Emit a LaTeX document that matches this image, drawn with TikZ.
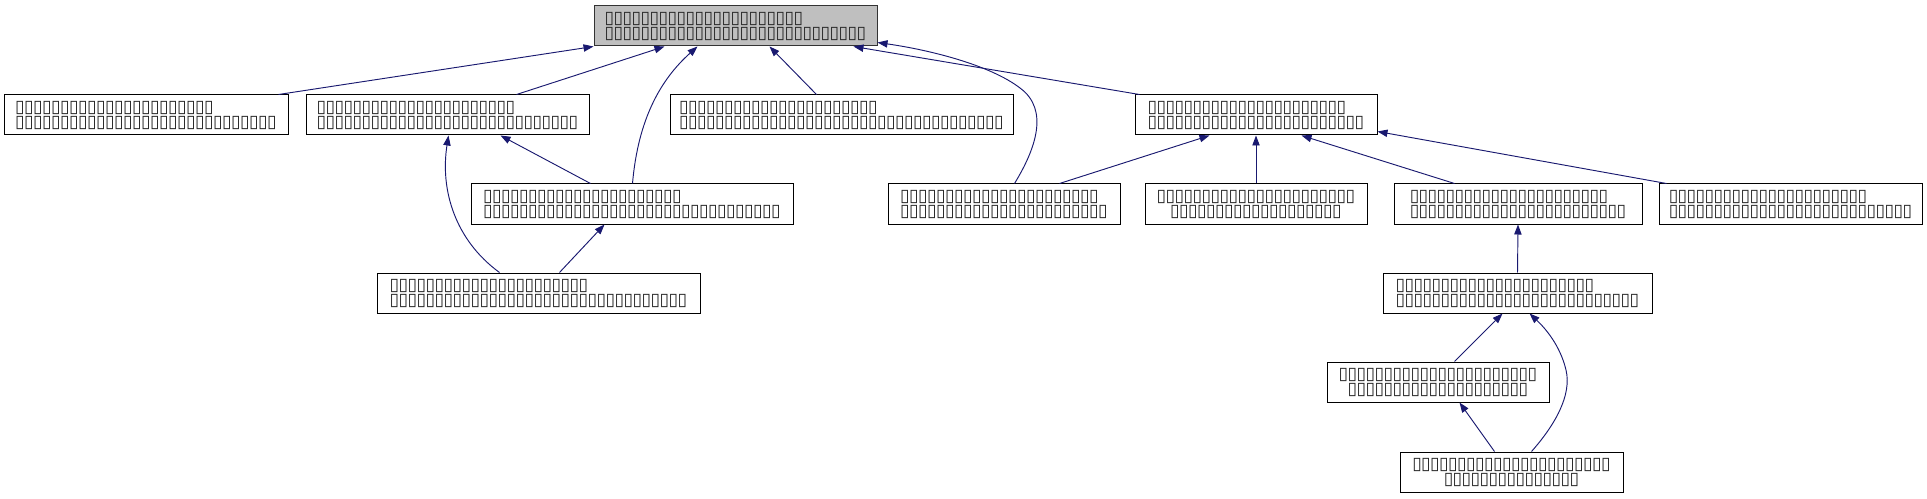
\documentclass[tikz,border=0pt]{standalone}
\usepackage{fontspec}
\newfontfamily\tofufont{DejaVu Sans}
\usetikzlibrary{arrows.meta,calc}
\definecolor{edgeblue}{HTML}{191970}
\definecolor{rootgray}{HTML}{BFBFBF}
\newlength\tfpitch \setlength\tfpitch{6.75pt}
\newcommand\tfch{\makebox[\tfpitch][c]{▯}}
\newcommand\tfrep[1]{\ifnum#1>0 \tfch\expandafter\tfrep\expandafter{\the\numexpr#1-1\relax}\fi}
\tikzset{
  nd/.style={draw=black, line width=0.75pt, fill=white, inner sep=0pt,
    minimum height=30pt, align=left, text=black!85,
    font=\tofufont\fontsize{13pt}{11.25pt}\selectfont},
  ndc/.style={nd, align=center},
  rootnd/.style={nd, fill=rootgray, draw=black!80},
  wd/.style={minimum width=#1*0.75pt},
  edge/.style={draw=edgeblue, line width=0.7pt, -{Triangle[length=7.5pt,width=5.5pt]}}
}
\begin{document}
\begin{tikzpicture}[x=0.75pt,y=-0.75pt]
\useasboundingbox (0,0) rectangle (1927,499);
\fill[white] (0,0) rectangle (1927,499);
% row 1
\node[rootnd, wd=283] (A) at (735.5,26) {\tfrep{22}\\\tfrep{29}};
% row 2
\node[nd, wd=284] (B) at (146,115) {\tfrep{22}\\\tfrep{29}};
\node[nd, wd=283] (C) at (447.5,115) {\tfrep{22}\\\tfrep{29}};
\node[nd, wd=343] (D) at (841.5,115) {\tfrep{22}\\\tfrep{36}};
\node[nd, wd=242] (R) at (1256,115) {\tfrep{22}\\\tfrep{24}};
% row 3
\node[nd, wd=322] (E) at (632,204) {\tfrep{22}\\\tfrep{33}};
\node[nd, wd=232] (F) at (1004,204) {\tfrep{22}\\\tfrep{23}};
\node[ndc, wd=222] (G) at (1256,204) {\tfrep{22}\\\tfrep{19}};
\node[nd, wd=248] (H) at (1518,204) {\tfrep{22}\\\tfrep{24}};
\node[nd, wd=263] (I) at (1790.5,204) {\tfrep{22}\\\tfrep{27}};
% row 4
\node[nd, wd=323] (J) at (538.5,293) {\tfrep{22}\\\tfrep{33}};
\node[nd, wd=269] (K) at (1517.5,293) {\tfrep{22}\\\tfrep{27}};
% row 5
\node[ndc, wd=222] (L) at (1438,382) {\tfrep{22}\\\tfrep{20}};
% row 6
\node[ndc, wd=223] (M) at (1511.5,472) {\tfrep{22}\\\tfrep{15}};
% edges
\draw[edge] ($(B.north west)+(275,0)$) -- (A.south west);
\draw[edge] ($(C.north west)+(211,0)$) -- ($(A.south west)+(71,0)$);
\draw[edge] ($(E.north west)+(162,0)$) .. controls (638,120) and (660,80) .. ($(A.south west)+(104,0)$);
\draw[edge] ($(D.north west)+(147,0)$) -- ($(A.south west)+(176,0)$);
\draw[edge] ($(F.north west)+(127,0)$) .. controls (1035,150) and (1050,110) .. (1020,88)
  .. controls (990,65) and (930,50) .. ($(A.south east)+(0,-4)$);
\draw[edge] ($(R.north west)+(5,0)$) -- ($(A.south east)+(-24,0)$);
\draw[edge] ($(E.north west)+(120,0)$) -- ($(C.south west)+(195,0)$);
\draw[edge] ($(J.north west)+(123,0)$) .. controls (455,240) and (440,190) .. ($(C.south west)+(143,0)$);
\draw[edge] ($(J.north west)+(183,0)$) -- ($(E.south west)+(134,0)$);
\draw[edge] ($(F.north west)+(172,0)$) -- ($(R.south west)+(75,0)$);
\draw[edge] (G.north) -- (R.south);
\draw[edge] ($(H.north west)+(61,0)$) -- ($(R.south west)+(167,0)$);
\draw[edge] ($(I.north west)+(8,0)$) -- ($(R.south east)+(0,-4)$);
\draw[edge] (K.north) -- (H.south);
\draw[edge] ($(L.north west)+(128,0)$) -- ($(K.south west)+(120,0)$);
\draw[edge] ($(M.north west)+(95,0)$) -- ($(L.south west)+(133,0)$);
\draw[edge] ($(M.north west)+(132,0)$) .. controls (1555,425) and (1572,395) .. (1566,370)
  .. controls (1560,345) and (1545,328) .. ($(K.south west)+(147,0)$);
\end{tikzpicture}
\end{document}
